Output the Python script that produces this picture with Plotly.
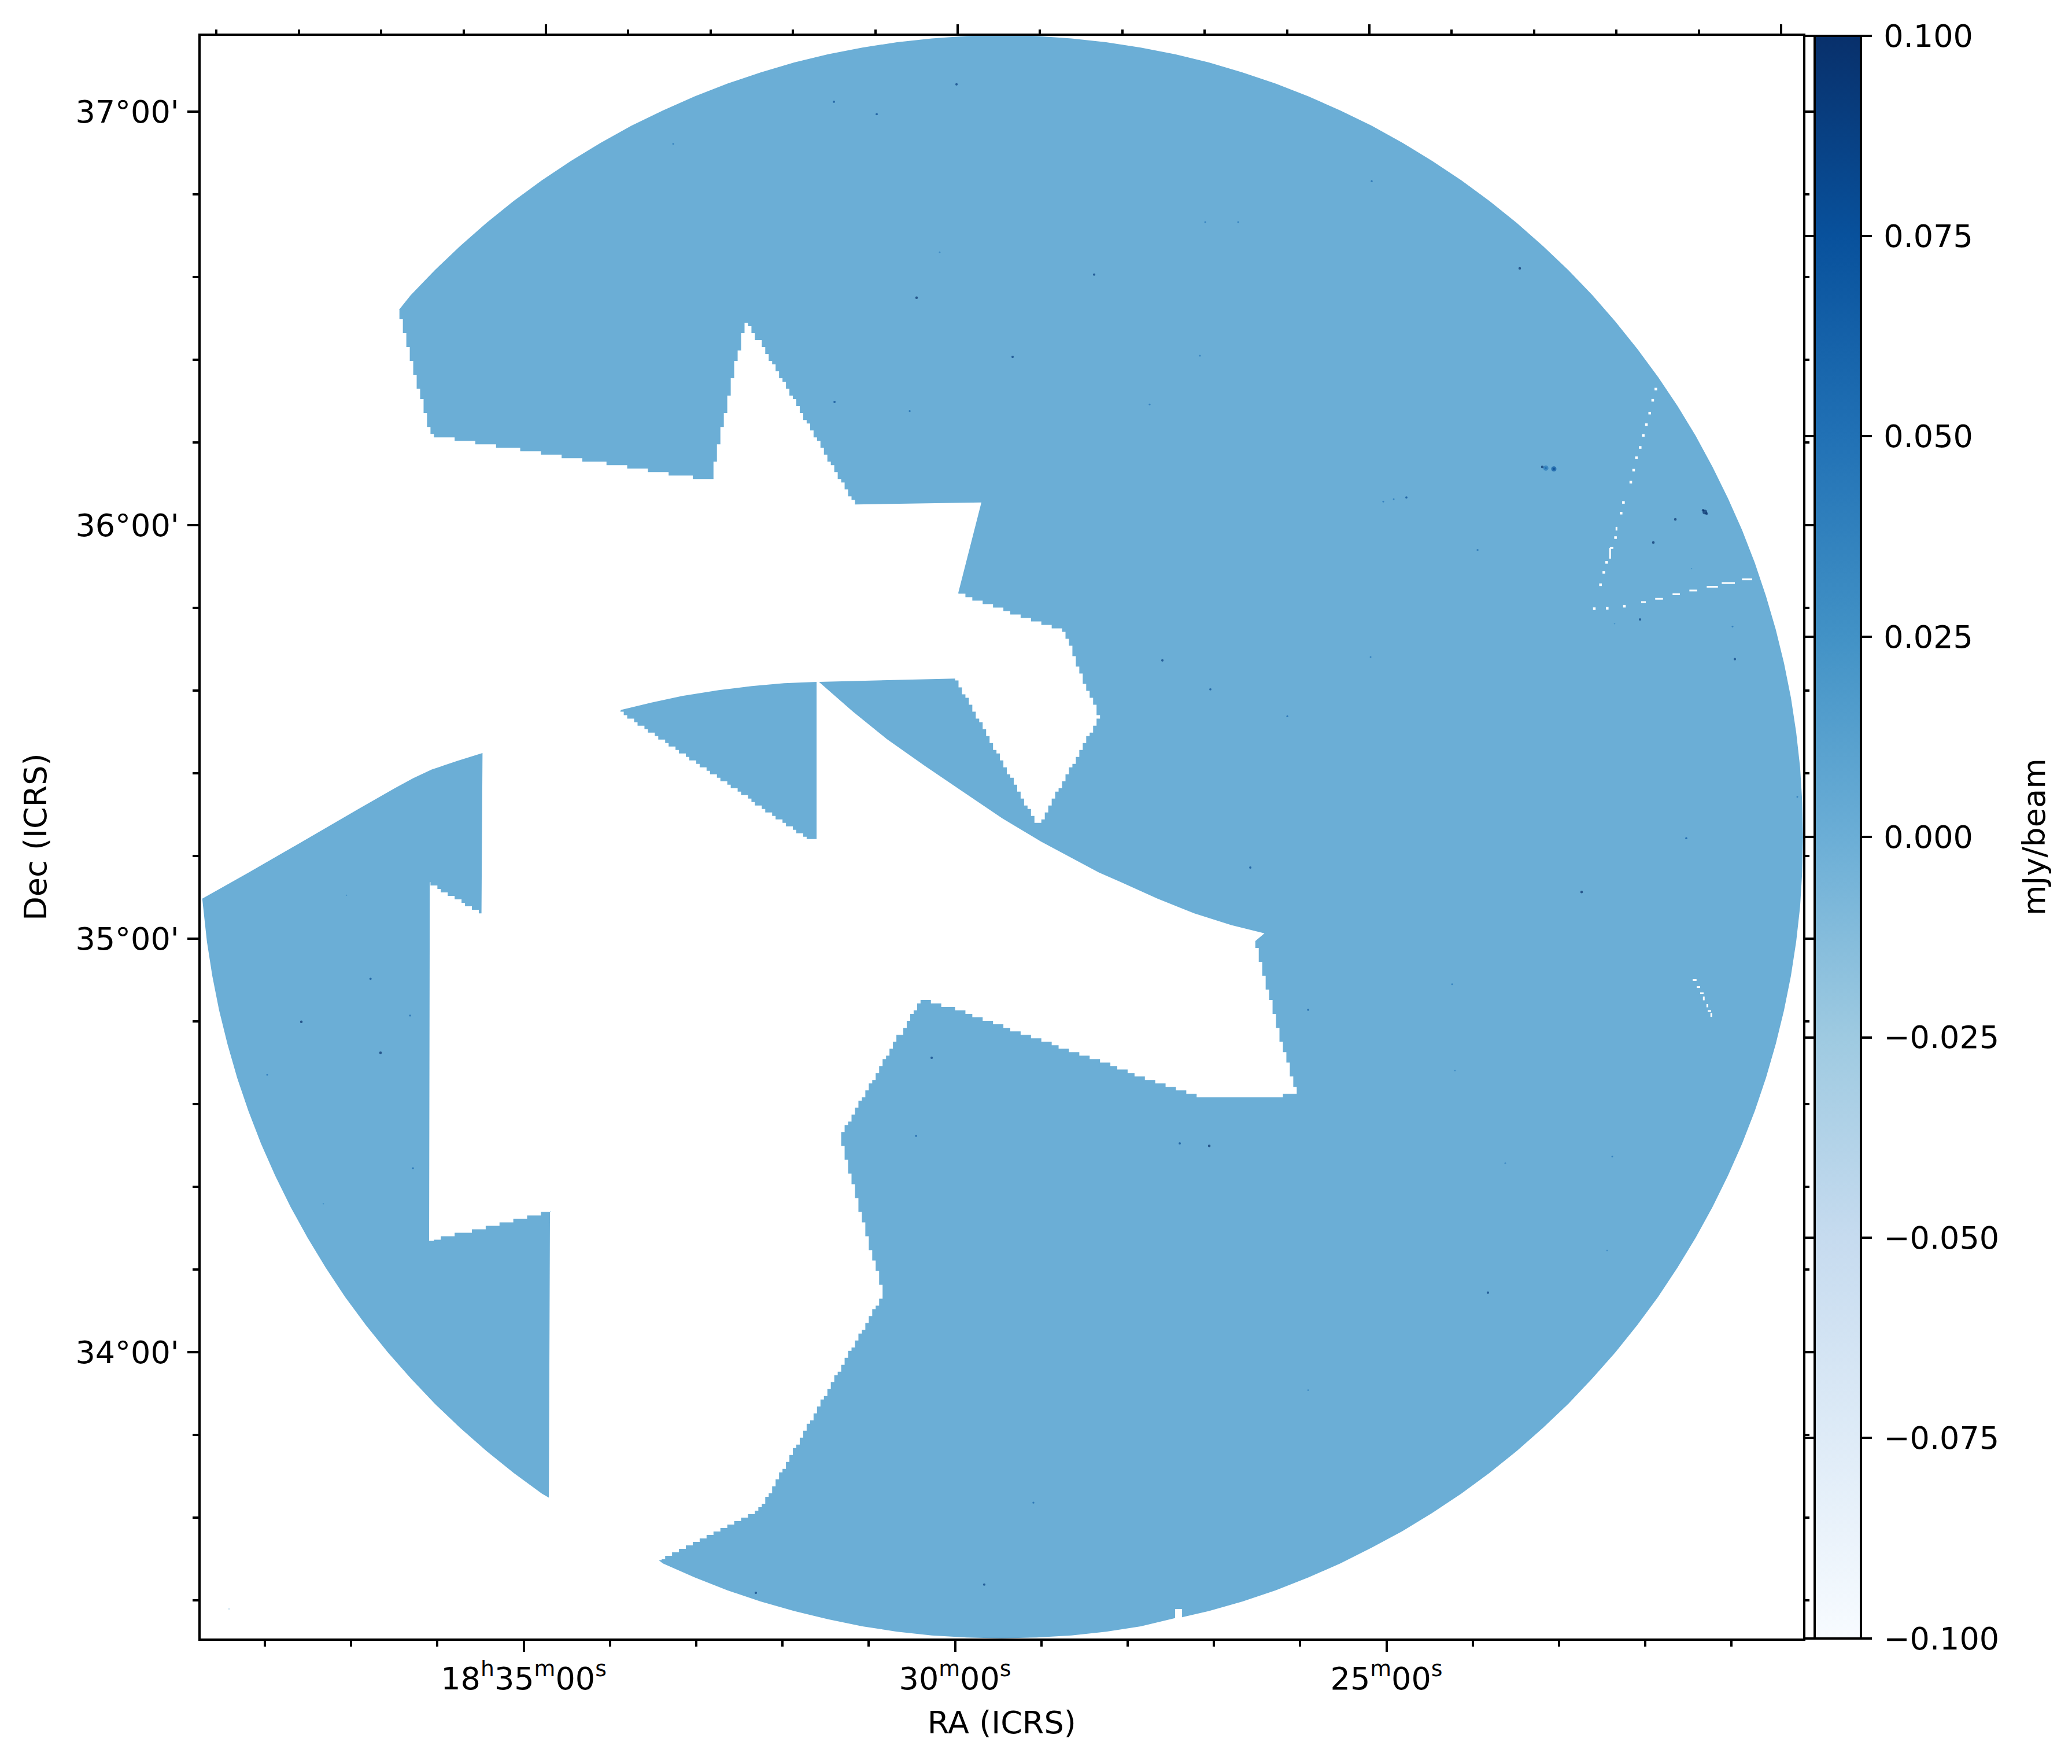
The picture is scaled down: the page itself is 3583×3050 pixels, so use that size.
import math
import plotly.graph_objects as go

# ---- coverage footprint, RA in minutes after 18h, Dec in degrees ----
ARC_RA = [36.448, 36.310, 36.029, 35.737, 35.432, 35.116, 34.789, 34.452, 34.105, 33.750, 33.386, 33.016,
          32.638, 32.254, 31.865, 31.471, 31.074, 30.673, 30.270, 29.866, 29.461, 29.056,
          28.651, 28.249, 27.848, 27.451, 27.057, 26.668, 26.284, 25.906, 25.535, 25.172, 24.816, 24.470,
          24.132, 23.806, 23.489, 23.185, 22.892, 22.612, 22.345, 22.091, 21.851, 21.626,
          21.416, 21.221, 21.042, 20.878, 20.731, 20.602, 20.488, 20.392, 20.312, 20.251, 20.206, 20.181,
          20.171, 20.181, 20.206, 20.251, 20.312, 20.392, 20.488, 20.602, 20.731, 20.878,
          21.042, 21.221, 21.416, 21.626, 21.851, 22.091, 22.345, 22.612, 22.892, 23.185, 23.489, 23.806,
          24.132, 24.470, 24.816, 25.172, 25.535, 25.906, 26.284, 26.668, 27.057,
          27.369, 27.369, 27.450, 27.450, 27.848, 28.249, 28.651, 29.056, 29.461, 29.866, 30.270, 30.673,
          31.074, 31.471, 31.865, 32.254, 32.638, 33.016, 33.386, 33.435]
ARC_DEC = [36.520, 36.556, 36.617, 36.675, 36.731, 36.784, 36.834, 36.881, 36.925, 36.966, 37.003, 37.037,
           37.068, 37.095, 37.119, 37.139, 37.155, 37.168, 37.177, 37.183, 37.185, 37.183,
           37.177, 37.168, 37.155, 37.139, 37.119, 37.095, 37.068, 37.037, 37.003, 36.966, 36.925, 36.881,
           36.834, 36.784, 36.731, 36.675, 36.617, 36.556, 36.492, 36.426, 36.358, 36.288,
           36.216, 36.141, 36.065, 35.988, 35.909, 35.829, 35.748, 35.666, 35.583, 35.499, 35.415, 35.331,
           35.246, 35.162, 35.077, 34.993, 34.910, 34.827, 34.745, 34.663, 34.583, 34.504,
           34.427, 34.351, 34.277, 34.205, 34.134, 34.066, 34.000, 33.937, 33.875, 33.817, 33.761, 33.708,
           33.658, 33.611, 33.567, 33.527, 33.489, 33.455, 33.424, 33.397, 33.374,
           33.359, 33.379, 33.379, 33.357, 33.337, 33.324, 33.315, 33.310, 33.308, 33.310, 33.315, 33.324,
           33.337, 33.354, 33.374, 33.397, 33.424, 33.455, 33.489, 33.497]
GAP_A_RA = [33.435, 32.296, 32.208, 30.830, 31.330, 30.412, 30.305, 30.048, 29.364, 28.509, 27.868,
            27.141, 26.038, 26.521]
GAP_A_DEC = [33.497, 33.617, 33.639, 34.143, 34.522, 34.855, 34.848, 34.832, 34.780, 34.716, 34.668,
             34.613, 34.622, 34.994]
CURVE_RA = [26.414, 26.799, 27.227, 27.654, 28.081, 28.334, 29.005, 29.452, 29.898, 30.345, 30.792,
            31.183, 31.578, 30.013]
CURVE_DEC = [35.013, 35.033, 35.061, 35.097, 35.137, 35.160, 35.235, 35.291, 35.354, 35.417, 35.483,
             35.549, 35.621, 35.629]
GAP_B_RA = [30.013, 29.045, 28.328, 28.723, 29.963]
GAP_B_DEC = [35.629, 35.274, 35.537, 35.744, 35.836]
RIDGE_RA = [29.963, 29.695, 31.156]
RIDGE_DEC = [35.836, 36.055, 36.050]
GAP_C_RA = [31.156, 32.423, 32.818, 36.076, 36.448]
GAP_C_DEC = [36.050, 36.502, 36.108, 36.218, 36.520]

WEST_TOP_RA = [38.725, 38.186, 37.762, 37.336, 36.921, 36.493, 36.280, 36.066, 35.767, 35.477, 35.489]
WEST_TOP_DEC = [35.097, 35.160, 35.211, 35.263, 35.313, 35.364, 35.388, 35.409, 35.430, 35.449, 35.061]
WEST_NOTCH1_RA = [35.489, 36.088]
WEST_NOTCH1_DEC = [35.061, 35.136]
WEST_NOTCH2_RA = [36.096, 34.695]
WEST_NOTCH2_DEC = [34.269, 34.341]
WEST_ARC_RA = [34.708, 34.789, 35.116, 35.432, 35.737, 36.029, 36.310, 36.576, 36.831, 37.071, 37.296,
               37.505, 37.701, 37.880, 38.044, 38.190, 38.320, 38.433, 38.530, 38.609, 38.671, 38.715, 38.725]
WEST_ARC_DEC = [33.648, 33.658, 33.708, 33.761, 33.817, 33.875, 33.937, 34.000, 34.066, 34.134, 34.205,
                34.277, 34.351, 34.427, 34.504, 34.583, 34.663, 34.745, 34.827, 34.910, 34.993, 35.077, 35.097]

WEDGE_TOP_RA = [33.873, 33.518, 33.160, 32.738, 32.356, 31.981, 31.605, 31.605]
WEDGE_TOP_DEC = [35.553, 35.571, 35.587, 35.601, 35.611, 35.618, 35.621, 35.241]
WEDGE_LOW_RA = [31.692, 33.873]
WEDGE_LOW_DEC = [35.241, 35.553]

# ---- compact sources ----
SRC_RA = [23.194, 23.153, 23.060, 21.330, 21.290, 21.652, 21.907, 22.061, 20.989, 22.356, 21.464,
          25.037, 24.916, 24.769, 23.455, 22.738, 21.525, 20.962, 20.238, 23.824, 22.383, 22.443,
          24.206, 24.239, 27.054, 27.396, 29.662, 29.092, 25.908, 23.623, 29.983, 31.404, 30.908,
          33.267, 30.446, 29.333, 31.397, 30.178, 30.526, 28.388, 27.162, 27.745, 26.719, 27.101,
          25.171, 23.944, 27.597, 25.184, 27.041, 26.149, 26.578, 25.908, 30.271, 30.452, 37.577,
          36.659, 36.775, 36.317, 37.973, 36.283, 37.054, 37.322, 32.309, 38.415]
SRC_DEC = [36.141, 36.138, 36.136, 36.036, 36.028, 36.014, 35.958, 35.772, 35.755, 35.762, 35.895,
           36.057, 36.063, 36.067, 36.621, 35.113, 35.243, 35.676, 35.343, 34.144, 34.473, 34.246,
           34.681, 34.890, 34.499, 34.505, 33.438, 33.636, 33.908, 34.457, 37.066, 37.024, 36.994,
           36.922, 36.550, 36.407, 36.298, 36.660, 36.276, 36.606, 36.410, 36.292, 36.733, 36.733,
           36.832, 35.940, 35.673, 35.681, 35.603, 35.538, 35.172, 34.828, 34.712, 34.523, 34.799,
           34.724, 34.903, 34.814, 34.671, 34.445, 35.105, 34.359, 33.418, 33.379]
SRC_FLUX = [0.10, 0.06, 0.08, 0.10, 0.10, 0.10, 0.10, 0.09, 0.05, 0.03, 0.03,
            0.05, 0.05, 0.08, 0.10, 0.10, 0.07, 0.09, 0.05, 0.09, 0.05, 0.04,
            0.04, 0.05, 0.10, 0.08, 0.09, 0.06, 0.04, 0.04, 0.09, 0.08, 0.08,
            0.05, 0.10, 0.09, 0.08, 0.04, 0.06, 0.09, 0.05, 0.05, 0.05, 0.05,
            0.06, 0.06, 0.09, 0.05, 0.08, 0.06, 0.08, 0.07, 0.09, 0.07, 0.10,
            0.10, 0.08, 0.06, 0.05, 0.06, 0.03, 0.03, 0.09, 0.01]
# resolved lobes of the brightest double and of the elongated source
LOBE_RA = [23.060, 23.153, 21.310]
LOBE_DEC = [36.136, 36.138, 36.032]
LOBE_FLUX = [0.07, 0.045, 0.10]

# ---- blanked pixels ----
BLANK_RA = [21.914, 21.987, 22.023, 22.135, 21.878, 21.949, 22.059, 22.103, 22.168, 22.253, 22.280,
            22.345, 22.448, 22.481, 22.519, 22.591, 22.441, 22.242]
BLANK_DEC = [36.302, 36.243, 36.217, 36.133, 36.329, 36.271, 36.188, 36.163, 36.104, 36.055, 36.029,
             35.970, 35.910, 35.886, 35.856, 35.798, 35.799, 35.804]
STREAK_RA = [22.048, 21.994, None, 21.885, 21.795, None, 21.684, 21.599, None, 21.489, 21.399, None,
             21.288, 21.158, None, 21.114, 20.962, None, 20.879, 20.761, None,
             21.451, 21.406, None, 21.404, 21.364, None, 21.364, 21.324, None, 21.277, 21.237, None,
             21.322, 21.322, None, 21.281, 21.281, None, 21.235, 21.235, None,
             22.408, 22.408, None, 22.408, 22.371, None, 22.334, 22.334]
STREAK_DEC = [35.814, 35.814, None, 35.822, 35.822, None, 35.833, 35.833, None, 35.842, 35.842, None,
              35.851, 35.851, None, 35.860, 35.860, None, 35.869, 35.869, None,
              34.900, 34.900, None, 34.883, 34.883, None, 34.868, 34.868, None, 34.825, 34.825, None,
              34.860, 34.851, None, 34.842, 34.834, None, 34.820, 34.811, None,
              35.945, 35.919, None, 35.945, 35.945, None, 35.996, 35.987]

# ---- axes ----
RA_MAJOR = [35, 30, 25]
RA_LABELS = ["18<sup>h</sup>35<sup>m</sup>00<sup>s</sup>", "30<sup>m</sup>00<sup>s</sup>", "25<sup>m</sup>00<sup>s</sup>"]
RA_MINOR = [38, 37, 36, 34, 33, 32, 31, 29, 28, 27, 26, 24, 23, 22, 21]
RA_TOP_MAJOR = [35, 30, 25, 20]
RA_TOP_MINOR = [39, 38, 37, 36, 34, 33, 32, 31, 29, 28, 27, 26, 24, 23, 22, 21]
DEC_MAJOR = [37, 36, 35, 34]
DEC_LABELS = ["37°00'", "36°00'", "35°00'", "34°00'"]
DEC_MINOR = [36.8, 36.6, 36.4, 36.2, 35.8, 35.6, 35.4, 35.2, 34.8, 34.6, 34.4, 34.2, 33.8, 33.6, 33.4]
CBAR_TICKS = [-0.1, -0.075, -0.05, -0.025, 0.0, 0.025, 0.05, 0.075, 0.1]
BLUES = ["#f7fbff", "#deebf7", "#c6dbef", "#9ecae1", "#6baed6", "#4292c6", "#2171b5", "#08519c", "#08306b"]

W, H = 3583, 3050
L, R, T, B = 346.5, 3118.0, 61.5, 2832.7
CB_L, CB_R = 3138.0, 3218.0
FONT = "DejaVu Sans"
FS = 54
PIX_RA, PIX_DEC = 0.04, 0.0084   # raster pixel of the regridded mosaic edges


def stepped(ra, dec):
    """Follow an edge on the image raster, as the pixels of the regridded map do."""
    xs, ys = [ra[0]], [dec[0]]
    for (a0, d0, a1, d1) in zip(ra[:-1], dec[:-1], ra[1:], dec[1:]):
        n = max(1, math.ceil(max(abs(a1 - a0) / PIX_RA, abs(d1 - d0) / PIX_DEC)))
        for k in range(1, n + 1):
            a = round((a0 + (a1 - a0) * k / n) / PIX_RA) * PIX_RA
            d = round((d0 + (d1 - d0) * k / n) / PIX_DEC) * PIX_DEC
            xs += [a, a]
            ys += [ys[-1], d]
    xs.append(ra[-1])
    ys.append(dec[-1])
    return xs, ys


def cs():
    return [[i / (len(BLUES) - 1), c] for i, c in enumerate(BLUES)]


gapA = stepped(GAP_A_RA, GAP_A_DEC)
gapB = stepped(GAP_B_RA, GAP_B_DEC)
gapC = stepped(GAP_C_RA, GAP_C_DEC)
main_ra = ARC_RA + gapA[0] + CURVE_RA + gapB[0] + RIDGE_RA + gapC[0]
main_dec = ARC_DEC + gapA[1] + CURVE_DEC + gapB[1] + RIDGE_DEC + gapC[1]
n1 = stepped(WEST_NOTCH1_RA, WEST_NOTCH1_DEC)
n2 = stepped(WEST_NOTCH2_RA, WEST_NOTCH2_DEC)
west_ra = WEST_TOP_RA + n1[0] + n2[0] + WEST_ARC_RA
west_dec = WEST_TOP_DEC + n1[1] + n2[1] + WEST_ARC_DEC
wl = stepped(WEDGE_LOW_RA, WEDGE_LOW_DEC)
wedge_ra = WEDGE_TOP_RA + wl[0]
wedge_dec = WEDGE_TOP_DEC + wl[1]

fill = "#6baed6"
fig = go.Figure()
for xs, ys in [(main_ra, main_dec), (west_ra, west_dec), (wedge_ra, wedge_dec)]:
    fig.add_trace(go.Scatter(x=xs, y=ys, mode="lines", fill="toself", fillcolor=fill,
                             line=dict(width=0, color=fill), hoverinfo="skip", showlegend=False))
fig.add_trace(go.Scatter(x=BLANK_RA, y=BLANK_DEC, mode="markers", hoverinfo="skip", showlegend=False,
                         marker=dict(symbol="square", size=4.5, color="white", line=dict(width=0))))
fig.add_trace(go.Scatter(x=STREAK_RA, y=STREAK_DEC, mode="lines", hoverinfo="skip", showlegend=False,
                         line=dict(color="white", width=3)))
fig.add_trace(go.Scatter(x=LOBE_RA, y=LOBE_DEC, mode="markers", hoverinfo="skip", showlegend=False,
                         marker=dict(size=[9, 9, 8], color=LOBE_FLUX, cmin=-0.1, cmax=0.1, colorscale=cs(),
                                     line=dict(width=0), showscale=False)))
fig.add_trace(go.Scatter(
    x=SRC_RA, y=SRC_DEC, mode="markers", showlegend=False,
    marker=dict(size=[1.5 + 30 * v for v in SRC_FLUX], color=SRC_FLUX, cmin=-0.1, cmax=0.1, colorscale=cs(),
                line=dict(width=0), showscale=True,
                colorbar=dict(
                    xref="paper", yref="paper", x=CB_L / W, xanchor="left", xpad=0, ypad=0,
                    y=1 - (T + B) / 2 / H, yanchor="middle",
                    lenmode="pixels", len=B - T, thicknessmode="pixels", thickness=CB_R - CB_L,
                    outlinewidth=4, outlinecolor="black", borderwidth=0,
                    tickmode="array", tickvals=CBAR_TICKS, tickformat=".3f",
                    ticks="outside", ticklen=27, tickwidth=4, tickcolor="rgba(0,0,0,0)",
                    tickfont=dict(family=FONT, size=FS, color="black"),
                ))))
# carriers for the top, right and colour-bar tick sets
fig.add_trace(go.Scatter(x=[None], y=[None], xaxis="x2", yaxis="y", showlegend=False))
fig.add_trace(go.Scatter(x=[None], y=[None], xaxis="x", yaxis="y2", showlegend=False))
fig.add_trace(go.Scatter(x=[None], y=[None], xaxis="x", yaxis="y3", showlegend=False))
fig.add_trace(go.Scatter(x=[None], y=[None], xaxis="x", yaxis="y4", showlegend=False))

xdom = [L / W, R / W]
ydom = [1 - B / H, 1 - T / H]
tick = dict(ticks="outside", ticklen=19, tickwidth=4, tickcolor="black", showgrid=False, zeroline=False)


def minor(vals):
    return dict(tickmode="array", tickvals=vals, ticks="outside", ticklen=10, tickwidth=3.5,
                tickcolor="black", showgrid=False)


fig.update_layout(
    width=W, height=H, paper_bgcolor="white", plot_bgcolor="white",
    margin=dict(l=0, r=0, t=0, b=0, pad=0, autoexpand=False),
    font=dict(family=FONT, size=FS, color="black"),
    xaxis=dict(domain=xdom, range=[38.747, 20.171], side="bottom", anchor="y",
               tickmode="array", tickvals=RA_MAJOR, ticktext=RA_LABELS, minor=minor(RA_MINOR),
               showline=True, linewidth=4, linecolor="black", mirror=True,
               tickfont=dict(family=FONT, size=FS), ticklabelstandoff=0,
               title=dict(text="RA (ICRS)", standoff=28, font=dict(family=FONT, size=FS)), **tick),
    xaxis2=dict(domain=xdom, range=[39.196, 19.733], side="top", overlaying="x", anchor="y",
                tickmode="array", tickvals=RA_TOP_MAJOR, showticklabels=False, minor=minor(RA_TOP_MINOR),
                showline=False, **tick),
    yaxis=dict(domain=ydom, range=[33.308, 37.184], side="left", anchor="x",
               tickmode="array", tickvals=DEC_MAJOR, ticktext=DEC_LABELS, minor=minor(DEC_MINOR),
               showline=True, linewidth=4, linecolor="black", mirror=True,
               tickfont=dict(family=FONT, size=FS), ticklabelstandoff=3,
               title=dict(text="Dec (ICRS)", standoff=34, font=dict(family=FONT, size=FS)), **tick),
    yaxis2=dict(domain=ydom, range=[33.308, 37.184], side="right", overlaying="y", anchor="x",
                tickmode="array", tickvals=DEC_MAJOR, showticklabels=False, minor=minor(DEC_MINOR),
                showline=False, **tick),
    yaxis3=dict(domain=ydom, range=[-0.1, 0.1], side="left", overlaying="y", anchor="free",
                position=CB_L / W, tickmode="array", tickvals=CBAR_TICKS, showticklabels=False,
                showline=False, **dict(tick, ticklen=18)),
    yaxis4=dict(domain=ydom, range=[-0.1, 0.1], side="right", overlaying="y", anchor="free",
                position=CB_R / W, tickmode="array", tickvals=CBAR_TICKS, showticklabels=False,
                showline=False, **dict(tick, ticklen=18)),
    annotations=[dict(text="mJy/beam", xref="paper", yref="paper", x=3517 / W, y=1 - (T + B) / 2 / H,
                      xanchor="center", yanchor="middle", textangle=-90, showarrow=False,
                      font=dict(family=FONT, size=FS, color="black"))],
)
fig.write_html("out.html", config={"displayModeBar": False},
               post_script="document.body.style.margin='0';")
